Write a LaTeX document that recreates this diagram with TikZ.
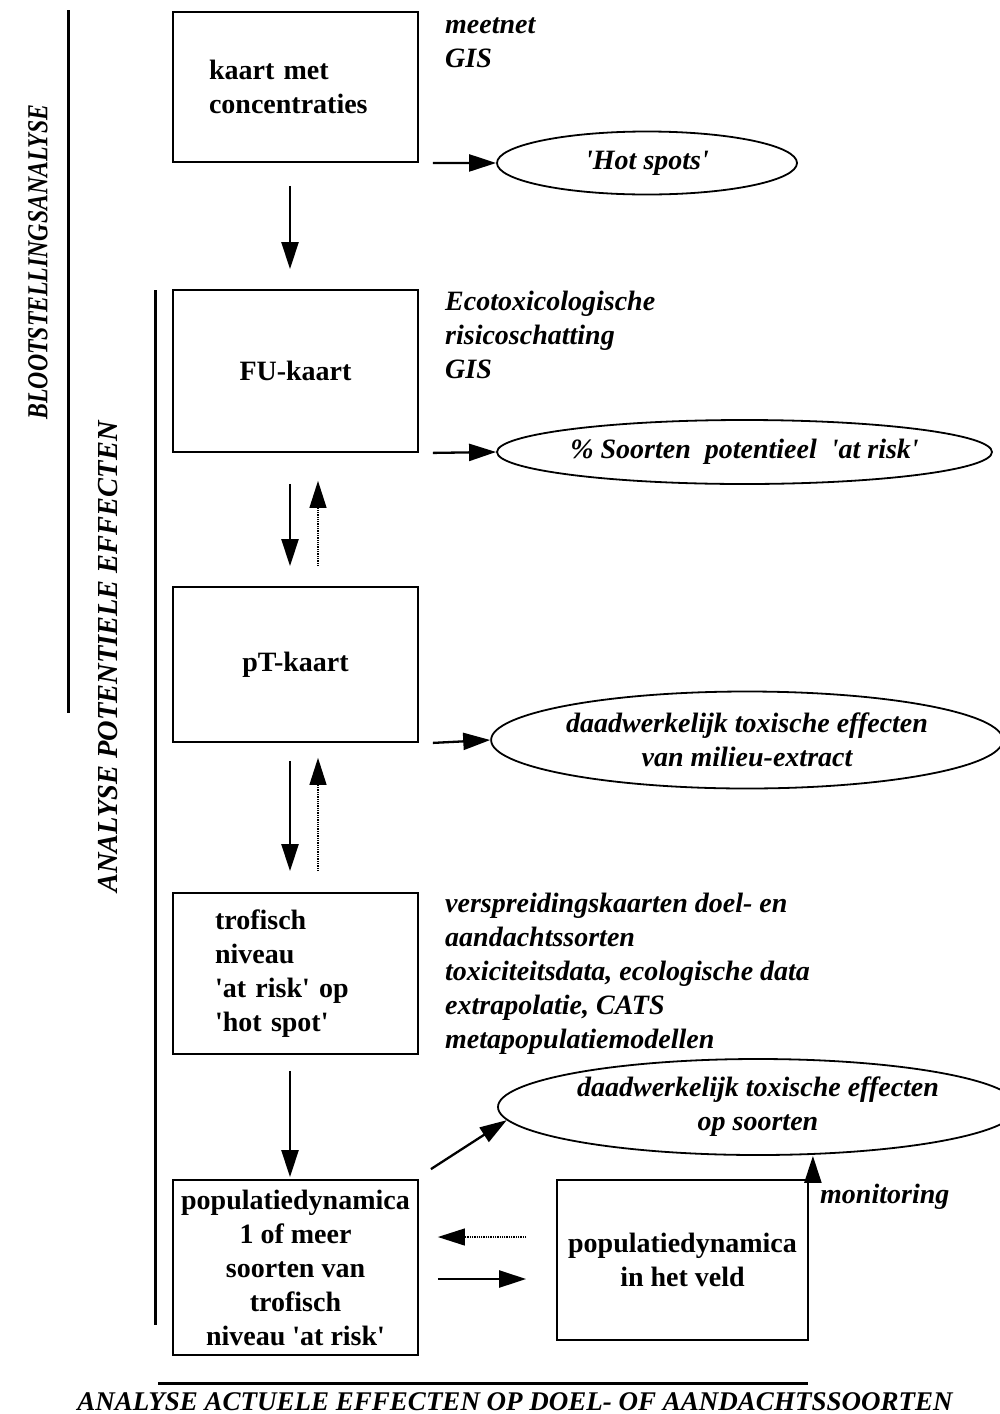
\documentclass[tikz,border=0pt]{standalone}
\usepackage{fontspec}
\setmainfont{Liberation Serif}
\usetikzlibrary{arrows.meta,calc,shapes.geometric}
\newcommand{\sq}{\textquotesingle}
\tikzset{kader/.style={draw, line width=1.8pt, minimum width=245pt, inner sep=0pt, font=\fontsize{28}{34}\selectfont\bfseries}}
\tikzset{wolk/.style={ellipse, draw, line width=1.8pt, inner sep=0pt, align=center, font=\fontsize{28}{34}\selectfont\bfseries\itshape}}
\tikzset{toelichting/.style={anchor=north west, inner sep=0pt, align=left, font=\fontsize{28}{34}\selectfont\bfseries\itshape}}
\tikzset{fase/.style={inner sep=0pt, font=\fontsize{29}{35}\selectfont\bfseries\itshape}}
\tikzset{pijl/.style={-{Triangle[length=27pt,width=17pt]}, line width=2.3pt}}
\tikzset{terug/.style={pijl, line width=1.3pt, densely dotted}}
\tikzset{balk/.style={line width=3pt}}

\begin{document}
\begin{tikzpicture}[x=1pt, y=-1pt]
\useasboundingbox (0,0) rectangle (999,1414);
\node [kader, minimum height=150pt, text width=173pt, align=left] (kaart) at (295.5,87) {kaart met\\concentraties};
\node [kader, minimum height=162pt] (fu) at (295.5,371) {FU-kaart};
\node [kader, minimum height=155pt] (ptk) at (295.5,664.5) {pT-kaart};
\node [kader, minimum height=161pt, text width=161pt, align=left] (trof) at (295.5,973.5) {trofisch\\niveau\\\sq at risk\sq\ op\\\sq hot spot\sq};
\node [kader, minimum height=175pt, align=center] (popdyn) at (295.5,1267.5) {populatiedynamica\\1 of meer\\soorten van\\trofisch\\niveau \sq at risk\sq};
\node [kader, minimum width=251pt, minimum height=160pt, align=center] (popveld) at (682.5,1260) {populatiedynamica\\in het veld};

\node [wolk, minimum width=300pt, minimum height=63pt] (hot) at (647,163) {\sq Hot spots\sq};
\node [wolk, minimum width=495pt, minimum height=64pt] (soorten) at (744.5,452) {\% Soorten\ \ potentieel\ \ \sq at risk\sq};
\node [wolk, minimum width=502pt, minimum height=97pt] (extract) at (747,740) {daadwerkelijk toxische effecten\\van milieu-extract};
\node [wolk, minimum width=520pt, minimum height=96pt] (effect) at (758,1107) {daadwerkelijk toxische effecten\\op soorten};

\node [toelichting] (meetnet) at (445,18) {meetnet\\GIS};
\node [toelichting] (ecotox) at (445,291) {Ecotoxicologische\\risicoschatting\\GIS};
\node [toelichting] (bronnen) at (445,893) {verspreidingskaarten doel- en\\aandachtssorten\\toxiciteitsdata, ecologische data\\extrapolatie, CATS\\metapopulatiemodellen};
\node [toelichting, anchor=west] (monitoring) at (820,1197) {monitoring};

\draw [pijl] ([xshift=14pt]kaart.south east) -- (hot.west);
\draw [pijl] ([xshift=-5.5pt,yshift=-23pt]kaart.south) -- ([xshift=-5.5pt,yshift=20pt]fu.north);
\draw [pijl] ([xshift=14pt]fu.south east) -- (soorten.west);
\draw [pijl] ([xshift=-5.5pt,yshift=-31pt]fu.south) -- ([xshift=-5.5pt,yshift=20pt]ptk.north);
\draw [terug] ([xshift=22.5pt,yshift=20pt]ptk.north) -- ([xshift=22.5pt,yshift=-28pt]fu.south);
\draw [pijl] ([xshift=14pt]ptk.south east) -- (extract.west);
\draw [pijl] ([xshift=-5.5pt,yshift=-18pt]ptk.south) -- ([xshift=-5.5pt,yshift=21pt]trof.north);
\draw [terug] ([xshift=22.5pt,yshift=21pt]trof.north) -- ([xshift=22.5pt,yshift=-15pt]ptk.south);
\draw [pijl] ([xshift=-5.5pt,yshift=-16pt]trof.south) -- ([xshift=-5.5pt,yshift=2pt]popdyn.north);
\draw [pijl] ([xshift=12pt,yshift=10pt]popdyn.north east) -- (effect.183);
\draw [pijl] ([xshift=4pt]popveld.north east) -- ([xshift=4pt]popveld.north east |- effect.south);
\draw [terug] ([xshift=-30pt,yshift=23pt]popveld.west) -- ($(popdyn.east |- popveld.west)+(19pt,23pt)$);
\draw [pijl] ($(popdyn.east |- popveld.west)+(19pt,-19pt)$) -- ([xshift=-30pt,yshift=-19pt]popveld.west);

\draw [balk] (68,10) -- (68,713);
\draw [balk] (155,290) -- (155,1325);
\draw [balk] (158,1383) -- (808,1383);
\node [fase, rotate=90] (blootstelling) at (38,262) {\scalebox{0.82}[1]{BLOOTSTELLINGSANALYSE}};
\node [fase, rotate=90] (potentieel) at (108,657) {\scalebox{0.98}[1]{ANALYSE POTENTIELE EFFECTEN}};
\node [fase, font=\fontsize{27}{32}\selectfont\bfseries\itshape] (actueel) at (515,1402) {ANALYSE ACTUELE EFFECTEN OP DOEL- OF AANDACHTSSOORTEN};
\end{tikzpicture}
\end{document}
